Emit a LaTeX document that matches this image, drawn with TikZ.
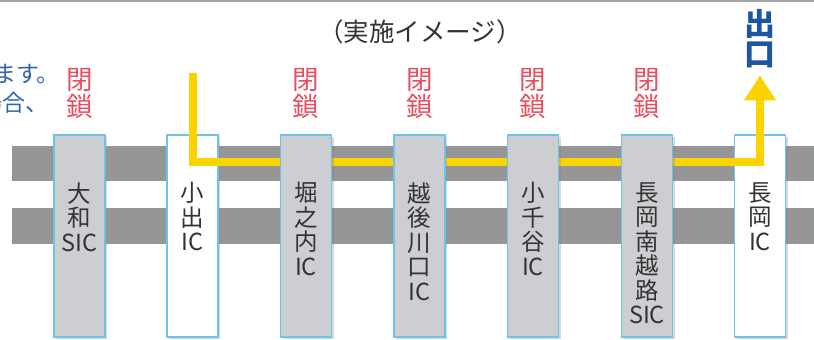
\documentclass[tikz,border=0pt]{standalone}
\usepackage{fontspec}
\usepackage{tikz}
\usetikzlibrary{positioning,arrows.meta,shadows}
\newfontfamily\jpfont{Noto Sans CJK JP}

\definecolor{roadgray}{RGB}{150,150,150}
\definecolor{boxgray}{RGB}{205,206,209}
\definecolor{boxblue}{RGB}{110,196,232}
\definecolor{closedred}{RGB}{232,78,96}
\definecolor{exitblue}{RGB}{30,85,160}
\definecolor{noteblue}{RGB}{50,100,170}
\definecolor{routeyellow}{RGB}{250,212,0}

\tikzset{
  icbox/.style={draw=boxblue, line width=1.5pt, minimum width=51pt, minimum height=202pt, inner sep=0pt,
    drop shadow={opacity=0.3, shadow xshift=2pt, shadow yshift=-2pt}},
  closedic/.style={icbox, fill=boxgray},
  openic/.style={icbox, fill=white},
  icname/.style={font=\jpfont\fontsize{23.5}{24.5}\selectfont, text=black!80, align=center, inner sep=0pt},
  closedtag/.style={font=\jpfont\fontsize{26.5}{27}\selectfont, text=closedred, align=center, inner sep=0pt},
  note/.style={font=\jpfont\fontsize{23}{26}\selectfont, text=noteblue, inner sep=0pt},
  route/.style={draw=routeyellow, line width=8pt, -{Triangle[width=30pt,length=25pt]}},
}

\begin{document}
\begin{tikzpicture}[x=1pt, y=-1pt]
    \useasboundingbox (0,0) rectangle (814,340);
    \draw[black!35, line width=1.5pt] (0,1) -- (814,1);

    % Road
    \fill[roadgray] (12,146) rectangle (814,181);
    \fill[roadgray] (12,208) rectangle (814,244);

    % Texts
    \node[font=\jpfont\fontsize{25.5}{28}\selectfont, text=black!80] (caption) at (420,32) {（実施イメージ）};
    \node[note, anchor=east] (note1) at (60,74) {ます。};
    \node[note, anchor=east] (note2) at (49,103) {場合、};

    % Open ICs
    \node[openic] (oide) at (192.5,236) {};
    \node[openic] (nagaoka) at (760,236) {};

    % Route
    \coordinate[above=61pt of oide.north] (enter);
    \coordinate[above=59pt of nagaoka.north] (exit);
    \draw[route] (enter) |- ([yshift=-28pt]nagaoka.north) -- (exit);

    % Closed ICs
    \node[closedic] (daiwa) at (79.5,236) {};
    \node[closedic] (horinouchi) at (306,236) {};
    \node[closedic] (kawaguchi) at (419.5,236) {};
    \node[closedic] (ojiya) at (533,236) {};
    \node[closedic] (koshiji) at (647,236) {};

    % Labels
    \node[icname, below=48pt of daiwa.north] {大\\和\\SIC};
    \node[icname, below=48pt of oide.north] {小\\出\\IC};
    \node[icname, below=48pt of horinouchi.north] {堀\\之\\内\\IC};
    \node[icname, below=48pt of kawaguchi.north] {越\\後\\川\\口\\IC};
    \node[icname, below=48pt of ojiya.north] {小\\千\\谷\\IC};
    \node[icname, below=48pt of koshiji.north] {長\\岡\\南\\越\\路\\SIC};
    \node[icname, below=48pt of nagaoka.north] {長\\岡\\IC};

    \foreach \ic in {daiwa, horinouchi, kawaguchi, ojiya, koshiji}
        \node[closedtag, above=15pt of \ic] {閉\\鎖};

    \node[font=\jpfont\bfseries\fontsize{31}{30}\selectfont, text=exitblue, align=center, inner sep=0pt,
        above=7pt of exit] (exitlabel) {出\\口};
\end{tikzpicture}
\end{document}
